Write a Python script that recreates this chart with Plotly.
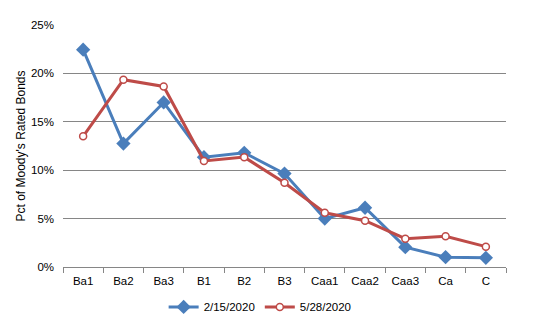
import plotly.graph_objects as go

ratings = ["Ba1", "Ba2", "Ba3", "B1", "B2", "B3", "Caa1", "Caa2", "Caa3", "Ca", "C"]
feb_2020 = [22.45, 12.75, 17.0, 11.35, 11.8, 9.65, 5.0, 6.12, 2.05, 1.02, 0.95]
may_2020 = [13.5, 19.35, 18.65, 10.95, 11.35, 8.7, 5.6, 4.78, 2.92, 3.18, 2.1]
y_ticks = [0, 5, 10, 15, 20, 25]
y_tick_labels = ["0%", "5%", "10%", "15%", "20%", "25%"]

font = "Liberation Sans, Arial, sans-serif"

fig = go.Figure()
fig.add_trace(go.Scatter(
    x=ratings, y=feb_2020, name="2/15/2020", mode="lines+markers",
    line=dict(color="#4A7EBB", width=3),
    marker=dict(symbol="diamond", size=11, color="#4A7EBB"),
))
fig.add_trace(go.Scatter(
    x=ratings, y=may_2020, name="5/28/2020", mode="lines+markers",
    line=dict(color="#BE4B48", width=3),
    marker=dict(symbol="circle", size=7, color="white",
                line=dict(color="#BE4B48", width=1.5)),
))

fig.update_layout(
    width=548, height=326,
    margin=dict(l=63, r=42, t=25, b=59, autoexpand=False),
    paper_bgcolor="white", plot_bgcolor="white",
    font=dict(family=font, size=11.5, color="black"),
    showlegend=True,
    legend=dict(orientation="h",
                x=0.445, xanchor="center", y=-0.165, yanchor="middle",
                font=dict(size=11.5), itemwidth=30, tracegroupgap=0),
    xaxis=dict(
        type="category", range=[-0.5, 10.5],
        showgrid=False, showline=False, zeroline=False,
        ticks="outside", tickson="boundaries", ticklen=5,
        tickcolor="#868686", tickwidth=1,
        tickfont=dict(size=11.5), ticklabelstandoff=5,
    ),
    yaxis=dict(
        range=[0, 25], tickvals=y_ticks, ticktext=y_tick_labels,
        showgrid=True, gridcolor="#868686", gridwidth=1,
        showline=False, zeroline=True, zerolinecolor="#868686", zerolinewidth=1,
        ticks="", ticklen=0, ticklabelstandoff=8,
        tickfont=dict(size=11.5),
        title=dict(text="Pct of Moody's Rated Bonds", font=dict(size=12), standoff=2),
    ),
)

fig.write_html("out.html")
